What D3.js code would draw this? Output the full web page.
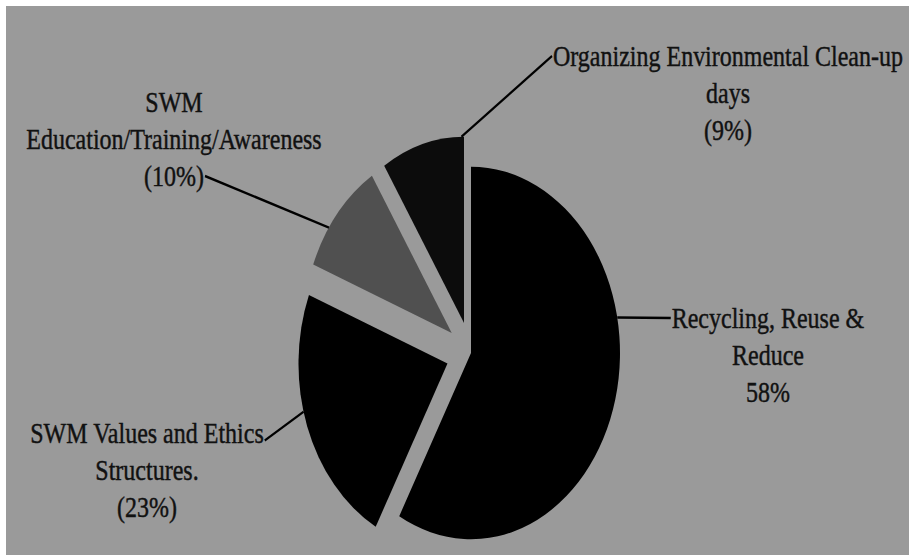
<!DOCTYPE html>
<html>
<head>
<meta charset="utf-8">
<script src="https://cdn.jsdelivr.net/npm/d3@7"></script>
<style>
  html, body { margin: 0; padding: 0; background: #ffffff; }
  svg { display: block; }
</style>
</head>
<body>
<svg id="chart" width="909" height="555"></svg>
<script>
// Share of responses per solid-waste-management theme
const categories = [
  "Recycling, Reuse & Reduce",
  "SWM Values and Ethics Structures.",
  "SWM Education/Training/Awareness",
  "Organizing Environmental Clean-up days"
];
const values = [58, 23, 10, 9];
// Label text broken into lines (percentage line appended from values)
const nameLines = [
  ["Recycling, Reuse &", "Reduce"],
  ["SWM Values and Ethics", "Structures."],
  ["SWM", "Education/Training/Awareness"],
  ["Organizing Environmental Clean-up", "days"]
];
const bracketed = [false, true, true, true];

// ---- layout & style ----
const W = 909, H = 555;
const STRETCH = 1.25;          // chart drawn taller than wide
const cx = 471, cy = 282.4, R = 149, EXPLODE = 25;
const sliceColors = ["#000000", "#000000", "#505050", "#0c0c0c"];
const FONT = "'Liberation Serif', 'Times New Roman', Times, serif";
const FONT_SIZE = 24, LINE_H = 29.6;

// label anchor (centre x, first baseline) and where the leader meets the slice rim
const labelLayout = [
  { x: 768, y: 262.4, leaderDeg: 79,    attach: "left",  line: 0, dy: -8 },
  { x: 147, y: 354.4, leaderDeg: 255,   attach: "right", line: 0, dy: -2 },
  { x: 174, y: 89.6,  leaderDeg: 304.5, attach: "right", line: 2, dy: -8 },
  { x: 728, y: 52.8,  leaderDeg: 359,   attach: "left",  line: 0, dy: -8 }
];

const svg = d3.select("#chart");
svg.append("rect")
  .attr("x", 6).attr("y", 6)
  .attr("width", W - 6).attr("height", H - 6)
  .attr("fill", "#9a9a9a");

const g = svg.append("g").attr("transform", `scale(1,${STRETCH})`);

const arcs = d3.pie().sort(null).value(d => d)(values);
const arcGen = d3.arc().innerRadius(0).outerRadius(R);

// every slice but the largest is pulled away from the centre
const offsetOf = (a, i) => {
  if (i === 0) return [0, 0];
  const mid = (a.startAngle + a.endAngle) / 2;
  return [EXPLODE * Math.sin(mid), -EXPLODE * Math.cos(mid)];
};

const slices = g.selectAll("g.slice")
  .data(arcs)
  .join("g")
  .attr("class", "slice")
  .attr("transform", (a, i) => {
    const [ox, oy] = offsetOf(a, i);
    return `translate(${cx + ox},${cy + oy})`;
  });

slices.append("path")
  .attr("d", arcGen)
  .attr("fill", (a, i) => sliceColors[i]);

// labels
const labels = g.selectAll("text.lbl")
  .data(arcs)
  .join("text")
  .attr("class", "lbl")
  .attr("text-anchor", "middle")
  .attr("font-family", FONT)
  .attr("font-size", FONT_SIZE)
  .attr("fill", "#111111")
  .attr("stroke", "#111111")
  .attr("stroke-width", 0.35);

labels.each(function (a, i) {
  const t = d3.select(this);
  const pct = bracketed[i] ? `(${values[i]}%)` : `${values[i]}%`;
  const lines = nameLines[i].concat([pct]);
  lines.forEach((ln, k) => {
    t.append("tspan")
      .attr("x", labelLayout[i].x)
      .attr("y", labelLayout[i].y + k * LINE_H)
      .text(ln);
  });
});

// leader lines from slice rim to the label edge
arcs.forEach((a, i) => {
  const L = labelLayout[i];
  const [ox, oy] = offsetOf(a, i);
  const ang = L.leaderDeg * Math.PI / 180;
  const x1 = cx + ox + R * Math.sin(ang);
  const y1 = cy + oy - R * Math.cos(ang);
  const tspan = labels.filter((d, j) => j === i).selectAll("tspan").nodes()[L.line];
  const len = tspan.getComputedTextLength();
  const x2 = L.attach === "left" ? L.x - len / 2 - 1 : L.x + len / 2 + 1;
  const y2 = L.y + L.line * LINE_H + L.dy;
  g.append("line")
    .attr("x1", x1).attr("y1", y1)
    .attr("x2", x2).attr("y2", y2)
    .attr("stroke", "#000")
    .attr("stroke-width", 2);
});
</script>
</body>
</html>
